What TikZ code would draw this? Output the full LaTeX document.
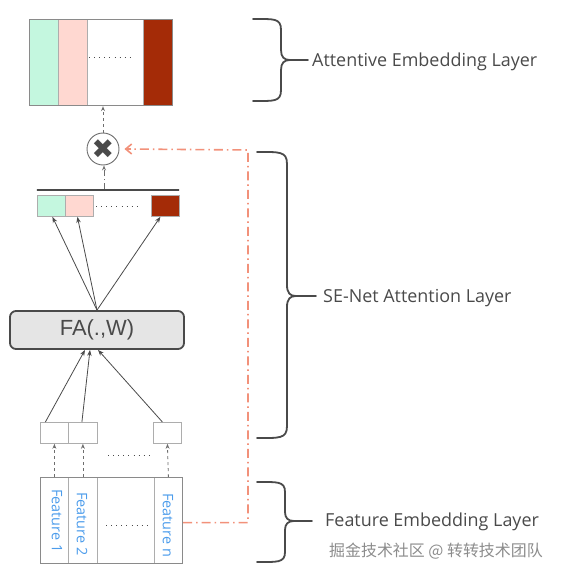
\documentclass[tikz,border=0pt]{standalone}
\usepackage{fontspec}
\setmainfont{Open Sans}
\newfontfamily\fafont{Liberation Sans}
\newfontfamily\symfont{DejaVu Sans}
\newfontfamily\cjk{Noto Sans CJK SC}
\usetikzlibrary{arrows.meta,calc}
\definecolor{mint}{HTML}{C4F7DF}
\definecolor{rose}{HTML}{FFD8D1}
\definecolor{rust}{HTML}{A42B07}
\definecolor{edgegray}{HTML}{8A8A8A}
\definecolor{darkline}{HTML}{4A4A4A}
\definecolor{salmon}{HTML}{F2917A}
\definecolor{featblue}{HTML}{4C9CEB}
\tikzset{
  cell/.style={draw=edgegray!70, line width=0.8bp, inner sep=0pt, anchor=north west},
  solidarrow/.style={draw=darkline, line width=0.8bp, -{Stealth[length=6bp,width=4.5bp]}},
  dasharrow/.style={draw=darkline!80, line width=0.8bp, dashed, -{Stealth[open,length=5bp,width=4bp]}},
  orange/.style={draw=salmon, line width=1.6bp, dash pattern=on 9bp off 4bp on 1.5bp off 4bp},
  bracepath/.style={draw=darkline, line width=1.8bp, line cap=round},
  layerlabel/.style={text=darkline, font=\fontsize{18}{21}\selectfont, anchor=west, inner sep=0pt},
  feat/.style={text=featblue, font=\fontsize{14.5}{16}\selectfont, rotate=-90, inner sep=0pt},
  dotsrow/.style={draw=darkline, line width=1bp, dash pattern=on 0.9bp off 4.2bp},
}
\begin{document}
\begin{tikzpicture}[x=1bp,y=-1bp]
\useasboundingbox (0,0) rectangle (561,578);
% ---------- top attentive embedding
\node[cell, fill=mint, minimum width=29bp, minimum height=86bp] (t1) at (29,19) {};
\node[cell, fill=rose, minimum width=29bp, minimum height=86bp] (t2) at (58,19) {};
\node[cell, fill=white, minimum width=56bp, minimum height=86bp] (t3) at (87,19) {};
\node[cell, fill=rust, minimum width=29bp, minimum height=86bp] (t4) at (143,19) {};
\node[draw=edgegray, line width=1.2bp, inner sep=0pt, minimum width=143bp, minimum height=86bp, anchor=north west] (top) at (29,19) {};
\draw[dotsrow] (89,58) -- (132,58);
% ---------- multiply circle
\node[circle, draw=darkline!80, line width=0.9bp, fill=white, minimum size=32bp, inner sep=0pt,
      font=\symfont\fontsize{27}{27}\selectfont, text=darkline] (mul) at (103,149) {✖};
\draw[dasharrow, dash pattern=on 3bp off 3bp] (mul) -- (top.south -| mul);
% ---------- SE vector
\node[draw=darkline, line width=1.8bp, minimum width=142bp, minimum height=0pt, inner sep=0pt] (bar) at (108,190) {};
\node[cell, fill=mint, minimum width=28bp, minimum height=21bp] (v1) at (37,195) {};
\node[cell, fill=rose, minimum width=28bp, minimum height=21bp] (v2) at (65,195) {};
\node[cell, fill=rust, minimum width=28bp, minimum height=21bp] (v3) at (151,195) {};
\draw[dotsrow] (96,206) -- (138,206);
\coordinate (barmid) at (104,189);
\draw[draw=darkline!80, line width=0.8bp, dash pattern=on 6bp off 3bp on 1bp off 3bp, -{Stealth[open,length=5bp,width=4bp]}] (barmid) -- (barmid |- mul.south);
% ---------- FA box
\node[draw=darkline, line width=1.8bp, fill=black!10, rounded corners=6bp, minimum width=174bp, minimum height=38bp,
      font=\fafont\fontsize{22}{24}\selectfont, text=darkline, inner sep=0pt] (fa) at (97,330) {FA(.,W)};
\draw[solidarrow] (fa.north) -- ([xshift=1bp]v1.south);
\draw[solidarrow] (fa.north) -- ([xshift=-2bp]v2.south);
\draw[solidarrow] (fa.north) -- ([xshift=-5bp]v3.south);
% ---------- embedding boxes
\node[cell, minimum width=28bp, minimum height=21bp] (e1) at (40,422) {};
\node[cell, minimum width=29bp, minimum height=21bp] (e2) at (68,422) {};
\node[cell, minimum width=28bp, minimum height=21bp] (e3) at (153,422) {};
\draw[dotsrow] (108,455) -- (150,455);
\draw[solidarrow] ([xshift=-9bp]e1.north) -- ([xshift=-12bp]fa.south);
\draw[solidarrow] ([xshift=-1bp]e2.north) -- ([xshift=-7bp]fa.south);
\draw[solidarrow] ([xshift=-5bp]e3.north) -- ([xshift=1bp]fa.south);
% ---------- feature box
\node[cell, minimum width=28bp, minimum height=86bp] (f1) at (40,477) {};
\node[cell, minimum width=29bp, minimum height=86bp] (f2) at (68,477) {};
\node[cell, minimum width=57bp, minimum height=86bp] (f3) at (97,477) {};
\node[cell, minimum width=28bp, minimum height=86bp] (f4) at (154,477) {};
\node[draw=edgegray, line width=1.2bp, inner sep=0pt, minimum width=142bp, minimum height=86bp, anchor=north west] (fbox) at (40,477) {};
\node[feat, anchor=west] (ft1) at (57,489) {Feature 1};
\node[feat, anchor=west] (ft2) at (82,492) {Feature 2};
\node[feat, anchor=west] (ft3) at (168,493) {Feature n};
\draw[dotsrow] (106,525) -- (148,525);
\draw[dasharrow] (f1.north) -- (e1.south);
\draw[dasharrow] (f2.north) -- (e2.south);
\draw[dasharrow] (f4.north) -- (e3.south);
% ---------- orange link
\coordinate (turn) at (248,150);
\draw[orange] ([yshift=-2bp]fbox.east) -| (turn) -- ([xshift=6bp]mul.east);
\draw[draw=salmon, line width=1.6bp, -{Straight Barb[length=6bp,width=10bp]}] ([xshift=12bp]mul.east) -- ([xshift=5bp]mul.east);
% ---------- braces
\draw[bracepath] (253,19) .. controls (274,19) and (281,18) .. (281,30) -- (281,50)
   .. controls (281,57) and (284,60) .. (290,60) -- (308,60);
\draw[bracepath] (253,101) .. controls (274,101) and (281,102) .. (281,90) -- (281,70)
   .. controls (281,63) and (284,60) .. (290,60);
\node[layerlabel] (l1) at (312,62) {Attentive Embedding Layer};
\draw[bracepath] (257,152) .. controls (279,152) and (287,151) .. (287,164) -- (287,285)
   .. controls (287,293) and (290,296) .. (296,296) -- (316,296);
\draw[bracepath] (257,438) .. controls (279,438) and (287,439) .. (287,426) -- (287,307)
   .. controls (287,299) and (290,296) .. (296,296);
\node[layerlabel] (l2) at (323,298) {SE-Net Attention Layer};
\draw[bracepath] (257,482) .. controls (277,482) and (285,481) .. (285,492) -- (285,512)
   .. controls (285,518) and (288,521) .. (294,521) -- (312,521);
\draw[bracepath] (257,562) .. controls (277,562) and (285,563) .. (285,552) -- (285,530)
   .. controls (285,524) and (288,521) .. (294,521);
\node[layerlabel] (l3) at (325,522) {Feature Embedding Layer};
\node[anchor=west, inner sep=0pt, text=black!45, font=\cjk\fontsize{16}{18}\selectfont] (wm) at (329,551) {掘金技术社区 @ 转转技术团队};
\end{tikzpicture}
\end{document}
